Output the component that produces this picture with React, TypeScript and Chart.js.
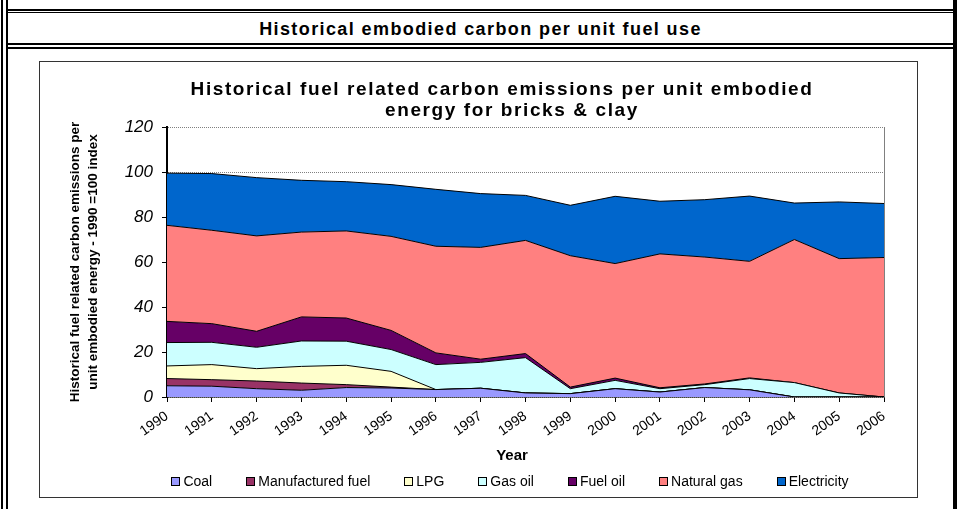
import React, { useEffect, useRef } from "react";
import { Chart, registerables } from "chart.js";

Chart.register(...registerables);

const years = ["1990", "1991", "1992", "1993", "1994", "1995", "1996", "1997", "1998", "1999", "2000", "2001", "2002", "2003", "2004", "2005", "2006"];
const coal = [5.0, 4.8, 3.7, 3.0, 4.2, 4.0, 3.3, 3.9, 1.8, 1.5, 3.7, 2.2, 4.2, 3.2, 0, 0, 0];
const manufacturedFuel = [3.2, 2.9, 3.4, 3.2, 1.3, 0.4, 0, 0, 0, 0, 0, 0, 0, 0, 0, 0, 0];
const lpg = [5.6, 6.7, 5.5, 7.4, 8.6, 7.0, 0, 0, 0, 0, 0, 0, 0, 0, 0, 0, 0];
const gasOil = [10.4, 9.9, 9.5, 11.3, 10.7, 9.7, 11.1, 11.5, 15.7, 2.2, 3.7, 1.5, 1.3, 5.0, 6.4, 1.8, 0];
const fuelOil = [9.4, 8.3, 7.1, 10.7, 10.3, 8.5, 5.2, 1.4, 1.8, 0.7, 1.0, 0.4, 0.3, 0.3, 0, 0, 0];
const naturalGas = [42.7, 41.5, 42.4, 37.7, 38.7, 41.8, 47.4, 49.7, 50.3, 58.4, 50.9, 59.5, 56.4, 51.8, 63.6, 59.7, 62.0];
const electricity = [23.2, 25.2, 25.9, 23.0, 21.9, 23.0, 25.3, 23.9, 20.0, 22.4, 29.9, 23.4, 25.5, 29.0, 16.2, 25.2, 24.0];

const seriesNames = ["Coal", "Manufactured fuel", "LPG", "Gas oil", "Fuel oil", "Natural gas", "Electricity"];
const seriesColors = ["#9999FF", "#993366", "#FFFFCC", "#CCFFFF", "#660066", "#FF8080", "#0066CC"];
const seriesData = [coal, manufacturedFuel, lpg, gasOil, fuelOil, naturalGas, electricity];

const yTitle = ["Historical fuel related carbon emissions per", "unit embodied energy - 1990 =100 index"];
const chartTitle = ["Historical fuel related carbon emissions per unit embodied", "energy for bricks & clay"];
const headerTitle = "Historical embodied carbon per unit fuel use";
const xTitle = "Year";

const FONT = '"Liberation Sans", Arial, sans-serif';

const CW = 877;
const CH = 435;

export default function App() {
  const ref = useRef<HTMLCanvasElement | null>(null);

  useEffect(() => {
    const canvas = ref.current;
    if (!canvas) return;
    const plotBorder = {
      id: "plotBorder",
      beforeDatasetsDraw(chart: any) {
        const { ctx, chartArea } = chart;
        ctx.save();
        ctx.strokeStyle = "#808080";
        ctx.lineWidth = 1;
        ctx.beginPath();
        ctx.moveTo(Math.round(chartArea.right) + 0.5, chartArea.top);
        ctx.lineTo(Math.round(chartArea.right) + 0.5, chartArea.bottom);
        ctx.stroke();
        ctx.restore();
      },
    };
    const datasets = seriesNames.map((name, i) => ({
      label: name,
      data: seriesData[i],
      backgroundColor: seriesColors[i],
      borderColor: "#000000",
      borderWidth: 1,
      fill: i === 0 ? "origin" : "-1",
      pointRadius: 0,
      pointHoverRadius: 0,
      tension: 0,
    }));
    const chart = new Chart(canvas, {
      type: "line",
      data: { labels: years, datasets },
      options: {
        responsive: false,
        animation: false,
        events: [],
        layout: { padding: { left: 0, right: 33, top: 65, bottom: 0 } },
        plugins: {
          legend: { display: false },
          title: { display: false },
          tooltip: { enabled: false },
        },
        scales: {
          x: {
            offset: false,
            grid: { display: true, drawOnChartArea: false, drawTicks: true, tickLength: 5, tickColor: "#000", tickWidth: 1 },
            border: { display: true, color: "#000", width: 1.5 },
            ticks: {
              font: { family: FONT, size: 14 },
              color: "#000",
              minRotation: 35,
              maxRotation: 35,
              autoSkip: false,
              padding: 6,
            },
            afterFit: (s: any) => {
              s.height = CH - 335;
            },
          },
          y: {
            stacked: true,
            min: 0,
            max: 120,
            ticks: {
              stepSize: 20,
              font: { family: FONT, size: 17, style: "italic" },
              color: "#000",
              padding: 9,
            },
            grid: { color: "#808080", lineWidth: 1, tickColor: "#000", tickLength: 5, tickWidth: 1 },
            border: { display: true, color: "#000", width: 2, dash: [1, 1] },
            title: {
              display: true,
              text: yTitle,
              font: { family: FONT, size: 13.5, weight: "bold", lineHeight: 1.35 },
              color: "#000",
              padding: { top: 26, bottom: 0 },
            },
            afterFit: (s: any) => {
              s.width = 127;
            },
          },
        },
      } as any,
      plugins: [plotBorder],
    });
    return () => chart.destroy();
  }, []);

  const line = (style: React.CSSProperties) => (
    <div style={{ position: "absolute", background: "#000", ...style }} />
  );

  const titleStyle: React.CSSProperties = {
    position: "absolute",
    width: 800,
    lineHeight: "21px",
    textAlign: "center",
    fontWeight: "bold",
    fontSize: 19,
    letterSpacing: "1.6px",
    color: "#000",
    whiteSpace: "pre",
  };

  return (
    <div style={{ position: "absolute", left: 0, top: 0, width: 962, height: 509, background: "#fff", overflow: "hidden", fontFamily: FONT }}>
      {line({ left: 1, top: 0, width: 2, height: 509 })}
      {line({ left: 6, top: 0, width: 2, height: 509 })}
      {line({ left: 953, top: 0, width: 4, height: 509 })}
      {line({ left: 6, top: 9, width: 948, height: 2 })}
      {line({ left: 6, top: 12, width: 948, height: 1 })}
      {line({ left: 6, top: 43, width: 948, height: 2 })}
      {line({ left: 6, top: 47, width: 948, height: 2 })}
      <div style={{ position: "absolute", left: 8, width: 945, top: 15, height: 29, lineHeight: "29px", textAlign: "center", fontWeight: "bold", fontSize: 18, letterSpacing: "1.4px", color: "#000", whiteSpace: "pre" }}>
        {headerTitle}
      </div>
      <div style={{ position: "absolute", left: 39, top: 61, width: 877, height: 435, border: "1px solid #333" }}>
        <canvas ref={ref} width={CW} height={CH} style={{ display: "block", width: CW, height: CH }} />
      </div>
      <div style={{ ...titleStyle, left: 102, top: 78 }}>{chartTitle[0]}</div>
      <div style={{ ...titleStyle, left: 112, top: 99 }}>{chartTitle[1]}</div>
      <div style={{ position: "absolute", left: 412, width: 200, top: 446, lineHeight: "18px", textAlign: "center", fontWeight: "bold", fontSize: 15, color: "#000" }}>
        {xTitle}
      </div>
      <div style={{ position: "absolute", left: 0, width: 1020, top: 472, height: 18, display: "flex", justifyContent: "center", alignItems: "center", gap: 34, fontSize: 14, color: "#000" }}>
        {seriesNames.map((n, i) => (
          <div key={n} style={{ display: "flex", alignItems: "center", whiteSpace: "pre" }}>
            <span style={{ display: "inline-block", width: 7, height: 7, background: seriesColors[i], border: "1px solid #000", marginRight: 3 }} />
            <span>{n}</span>
          </div>
        ))}
      </div>
    </div>
  );
}
